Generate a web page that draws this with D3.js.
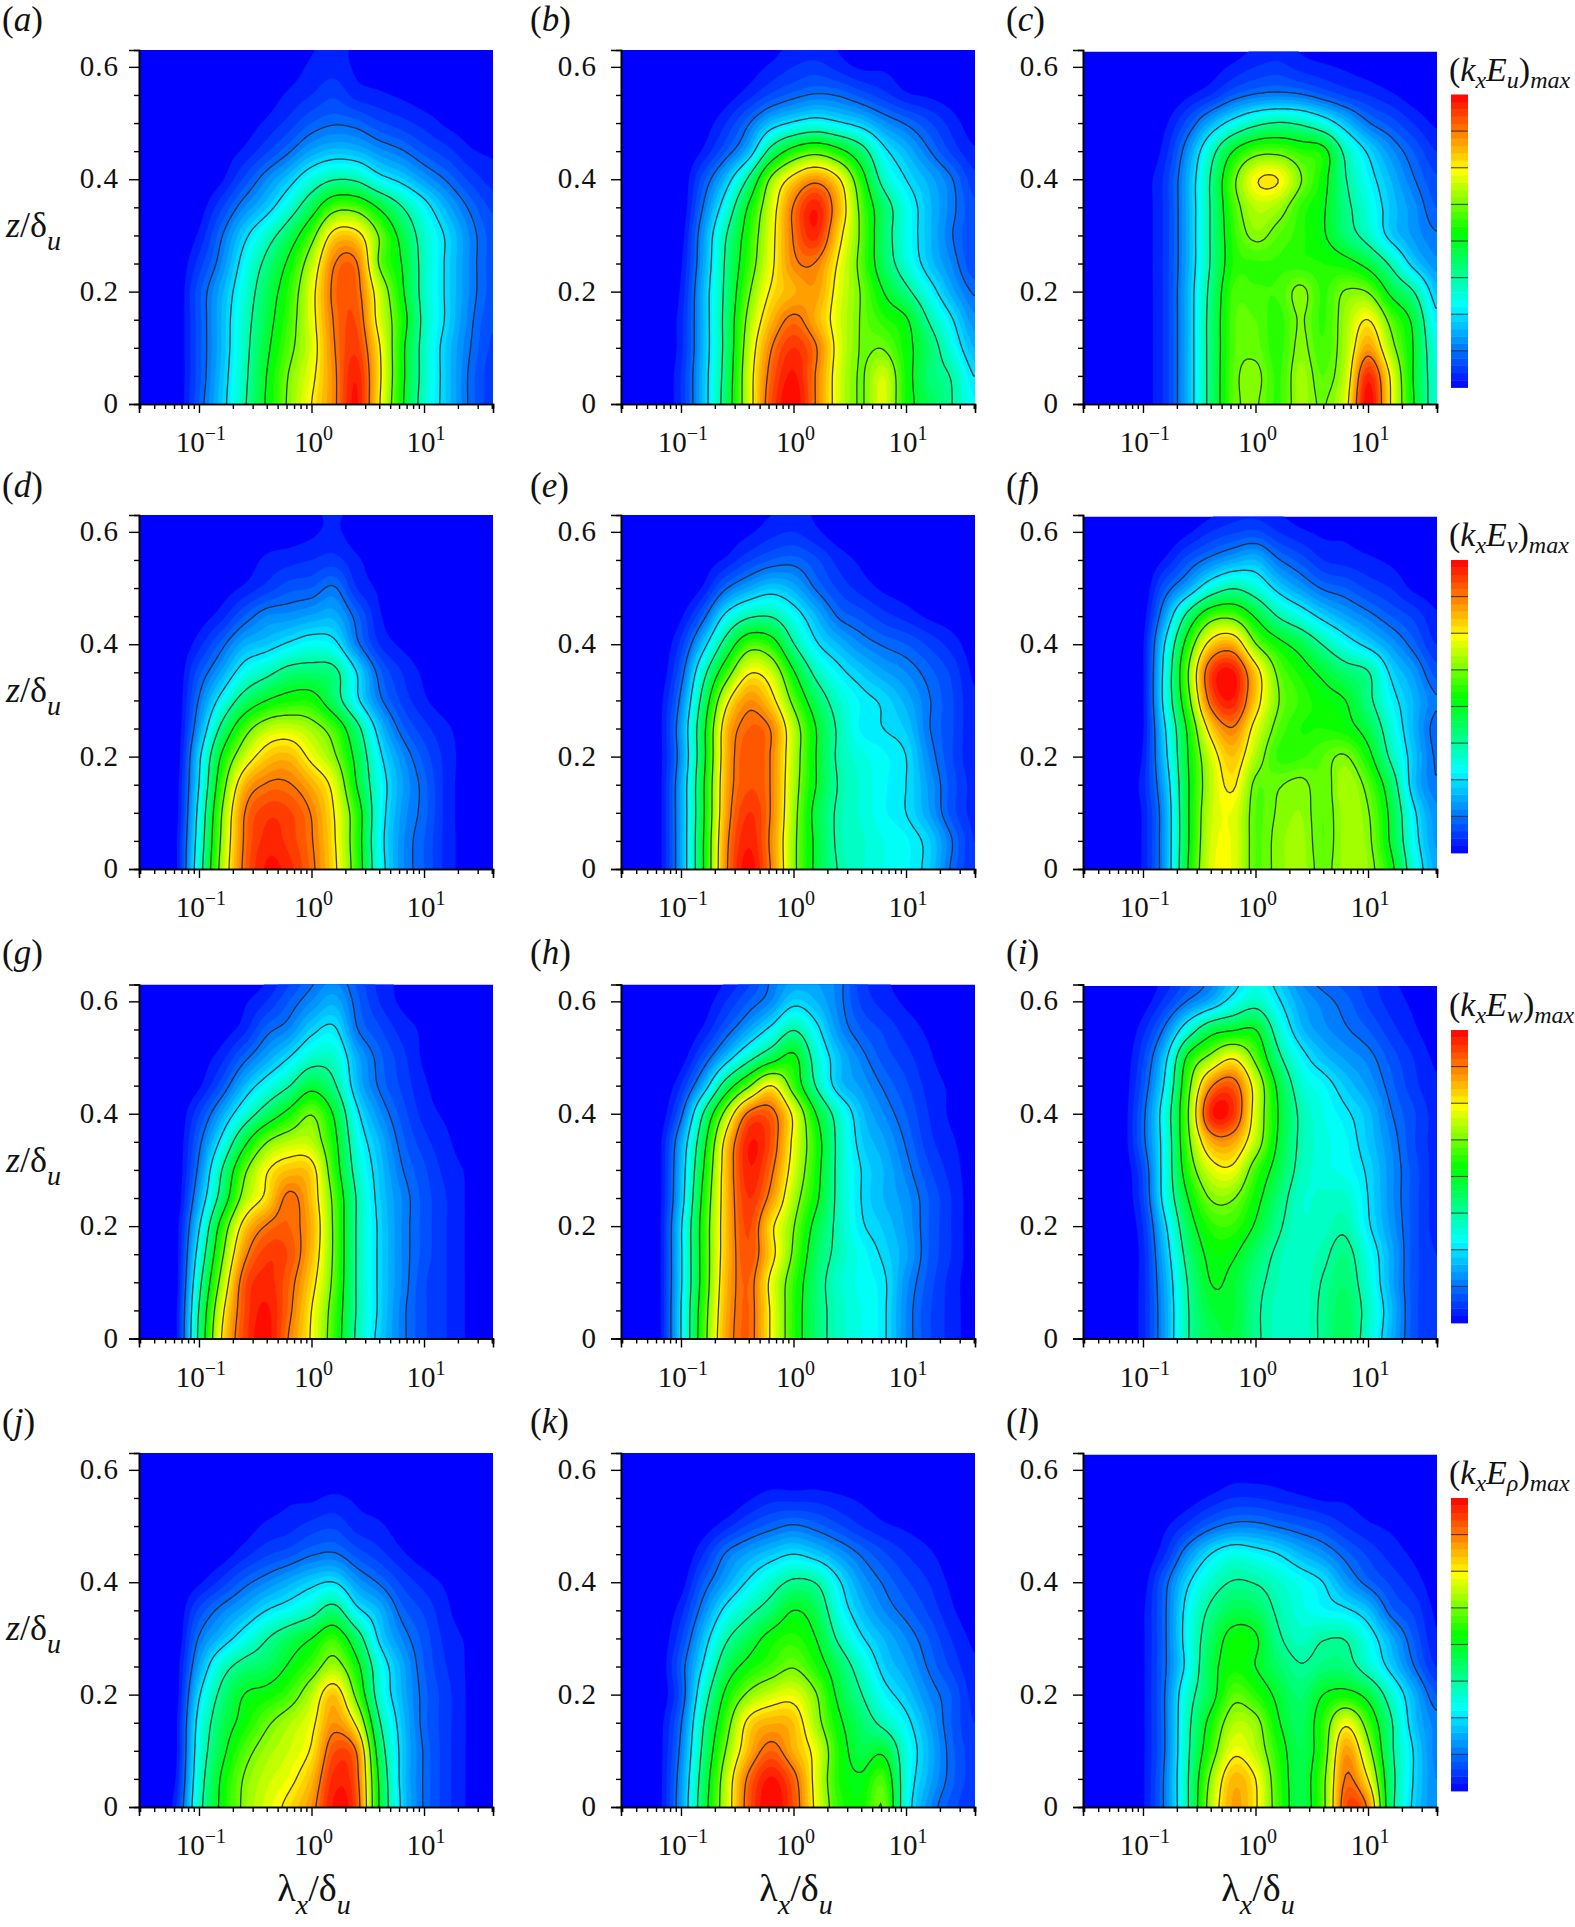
<!DOCTYPE html>
<html><head><meta charset="utf-8">
<script src="https://cdn.jsdelivr.net/npm/d3@7"></script>
<style>
html,body{margin:0;padding:0;background:#fff}
text{font-family:"Liberation Serif","Times New Roman",serif;fill:#111}
</style></head><body><svg id="c" width="1575" height="1927"></svg>
<script>
// log10(lambda_x/delta_u) at each column, z/delta_u at each row
const logLambda=[-1.6,-1.4,-1.2,-1,-0.8,-0.6,-0.4,-0.2,0,0.2,0.4,0.6,0.8,1,1.2,1.4,1.6];
const zRows=[0,0.05,0.1,0.15,0.2,0.25,0.3,0.35,0.4,0.45,0.5,0.55,0.6,0.65];
const xTickMajor=[0.1,1,10];
const xTickLabels=["\u22121","0","1"];
const xTickMinor=[0.03,0.04,0.05,0.06,0.07,0.08,0.09,0.2,0.3,0.4,0.5,0.6,0.7,0.8,0.9,2,3,4,5,6,7,8,9,20,30,40];
const yTickMajor=[0,0.2,0.4,0.6];
const yTickMinor=[0.05,0.1,0.15,0.25,0.3,0.35,0.45,0.5,0.55];
const contourLevels=[12.5,25,37.5,50,62.5,75,87.5];
const panelLetters=["a","b","c","d","e","f","g","h","i","j","k","l"];
const barSymbols=["u","v","w","\u03C1"];
const colorStops=[0,28,53,74,100];
const colorValues=["#0000ff","#00ffff","#00ff00","#ffff00","#ff0000"];

const panelA=[
[0,0,0,10,22,36,51,64,75,86,98,76,52,33,22,12,6],
[0,0,0,9,21,35,50,63,73,86,97,77,53,34,22,12,6],
[0,0,0,9,20,34,48,60,71,87,94,76,53,34,22,13,7],
[0,0,0,9,20,33,46,58,72,88,92,72,55,35,24,14,8],
[0,0,0,9,19,31,44,56,72,89,90,70,52,34,24,15,9],
[0,0,0,6,15,28,40,52,68,87,88,62,50,34,24,15,9],
[0,0,0,3,12,23,33,44,59,78,78,62,47,33,24,15,9],
[0,0,0,1,7,15,22,32,45,59,59,49,38,28,19,12,7],
[0,0,0,0,2,8,15,22,31,37,36,28,23,17,12,7,4],
[0,0,0,0,1,3,7,12,18,21,20,16,13,9,6,3,2],
[0,0,0,0,0,1,3,6,10,12,11,8,6,4,2,1,0],
[0,0,0,0,0,0,1,3,5,7,4,3,2,1,1,0,0],
[0,0,0,0,0,0,0,1,3,4,2,1,0,0,0,0,0],
[0,0,0,0,0,0,0,0,2,3,2,0,0,0,0,0,0]];
const panelB=[
[0,0,0,5,21,43,70,92,100,87,71,62,71,54,45,38,28],
[0,0,0,5,21,42,70,90,98,87,71,62,70,54,42,37,25],
[0,0,0,4,20,41,68,87,95,88,72,62,62,53,43,31,20],
[0,0,0,4,20,41,65,81,89,82,71,62,56,51,37,26,16],
[0,0,0,3,20,40,61,76,82,84,72,62,50,40,29,19,12],
[0,0,0,2,18,39,57,73,86,87,74,60,44,32,22,15,8],
[0,0,0,1,17,37,55,72,88,96,78,61,43,30,21,13,8],
[0,0,0,0,13,30,51,70,88,97,82,60,43,30,21,14,8],
[0,0,0,0,9,21,39,64,78,85,76,55,34,25,19,13,6],
[0,0,0,0,3,10,20,41,54,59,53,42,27,20,13,7,3],
[0,0,0,0,1,5,12,21,26,29,26,22,16,12,8,4,1],
[0,0,0,0,0,1,4,8,11,13,12,9,6,3,2,1,0],
[0,0,0,0,0,0,1,3,5,6,4,2,2,1,0,0,0],
[0,0,0,0,0,0,0,1,3,3,2,0,0,0,0,0,0]];
const panelC=[
[0,0,0,1,6,20,41,60,63,57,66,62,72,100,75,51,33],
[0,0,0,1,6,20,41,60,64,57,66,60,69,96,74,50,33],
[0,0,0,1,6,20,41,59,61,56,64,58,67,84,66,50,31],
[0,0,0,1,6,20,41,59,60,56,63,57,66,75,60,48,27],
[0,0,0,1,6,20,40,58,58,58,64,57,63,62,48,38,22],
[0,0,0,1,6,19,38,55,57,57,56,55,53,47,36,23,16],
[0,0,0,1,6,19,38,56,64,60,56,51,42,34,23,17,13],
[0,0,0,1,6,19,38,58,68,66,57,51,40,31,22,16,10],
[0,0,0,1,6,19,38,60,74,75,63,53,38,28,20,13,8],
[0,0,0,0,4,16,33,50,59,60,56,53,35,24,16,10,5],
[0,0,0,0,2,9,19,28,35,38,36,30,21,13,9,5,2],
[0,0,0,0,0,2,5,10,13,14,13,10,7,5,3,1,0],
[0,0,0,0,0,0,1,3,5,6,4,3,2,1,0,0,0],
[0,0,0,0,0,0,0,1,2,3,2,1,0,0,0,0,0]];
const panelD=[
[0,0,2,32,66,89,98,96,89,77,57,30,16,10,4,1,0],
[0,0,2,30,64,88,96,94,88,76,56,29,16,10,4,1,0],
[0,0,1,28,62,87,94,93,87,75,56,30,17,11,4,1,0],
[0,0,1,25,57,81,88,88,82,72,50,30,18,11,4,1,0],
[0,0,0,23,51,69,79,81,73,64,47,27,16,9,4,1,0],
[0,0,0,17,40,58,68,70,66,58,41,22,11,6,3,1,0],
[0,0,0,13,28,42,50,54,54,43,27,14,7,3,1,0,0],
[0,0,0,9,18,29,35,41,42,40,25,11,5,2,1,0,0],
[0,0,0,4,11,19,22,26,29,27,14,5,2,1,0,0,0],
[0,0,0,1,4,10,15,16,18,19,11,3,1,0,0,0,0],
[0,0,0,0,1,3,6,9,10,13,5,2,0,0,0,0,0],
[0,0,0,0,0,1,3,4,5,6,3,1,0,0,0,0,0],
[0,0,0,0,0,0,1,1,2,3,1,0,0,0,0,0,0],
[0,0,0,0,0,0,0,0,2,3,2,0,0,0,0,0,0]];
const panelE=[
[0,0,1,18,50,86,99,87,65,48,37,33,30,28,23,12,5],
[0,0,1,18,50,85,97,86,65,48,36,33,30,28,23,13,5],
[0,0,1,18,49,83,95,87,66,47,36,32,28,25,18,9,4],
[0,0,1,18,49,82,92,87,67,50,37,32,28,25,17,9,4],
[0,0,1,16,47,81,92,87,68,50,36,31,28,25,15,8,3],
[0,0,1,17,47,80,90,87,68,50,36,27,25,22,13,8,3],
[0,0,1,14,42,72,85,78,60,44,33,27,24,19,13,8,3],
[0,0,0,10,34,57,74,70,51,35,27,22,18,15,11,7,2],
[0,0,0,6,22,42,58,55,38,26,20,15,12,10,7,4,1],
[0,0,0,2,11,27,36,37,29,20,12,9,6,4,2,1,0],
[0,0,0,0,3,12,18,22,19,12,7,4,2,1,0,0,0],
[0,0,0,0,1,3,7,10,11,8,4,2,1,0,0,0,0],
[0,0,0,0,0,1,2,4,5,3,1,1,1,0,0,0,0],
[0,0,0,0,0,0,1,2,3,2,1,1,0,0,0,0,0]];
const panelF=[
[0,0,0,3,18,50,71,72,60,64,66,61,66,65,53,32,19],
[0,0,0,3,18,49,70,72,60,64,66,60,66,64,49,29,17],
[0,0,0,3,18,49,69,72,60,63,65,60,66,63,48,27,16],
[0,0,0,4,20,49,68,76,61,62,64,60,67,60,44,22,13],
[0,0,0,3,23,50,70,80,67,57,57,60,63,53,36,22,12],
[0,0,0,2,25,52,78,87,72,60,55,55,53,46,32,20,11],
[0,0,0,2,29,59,90,97,79,63,57,53,50,40,28,20,13],
[0,0,0,2,29,62,93,98,79,61,54,48,42,38,24,17,9],
[0,0,0,2,26,55,78,82,63,53,46,37,29,23,17,11,5],
[0,0,0,1,18,41,58,60,49,37,30,23,18,14,10,7,3],
[0,0,0,0,10,19,31,37,32,23,17,12,10,7,5,2,1],
[0,0,0,0,3,9,14,18,20,13,9,5,4,3,2,1,0],
[0,0,0,0,0,2,5,7,8,5,3,2,2,1,1,1,0],
[0,0,0,0,0,0,1,3,3,2,1,1,1,0,0,0,0]];
const panelG=[
[0,0,2,40,75,93,99,87,74,57,36,23,14,8,5,2,0],
[0,0,2,38,72,92,98,89,75,58,37,24,14,8,5,2,0],
[0,0,1,34,66,91,96,90,78,60,37,24,15,8,5,2,0],
[0,0,1,29,60,85,94,92,81,61,37,24,15,9,5,2,0],
[0,0,1,24,54,78,88,90,82,61,37,24,15,9,5,2,0],
[0,0,0,18,42,66,77,89,80,60,37,23,15,9,5,2,0],
[0,0,0,14,37,60,74,80,78,56,34,22,13,8,4,2,0],
[0,0,0,11,27,47,62,68,68,53,31,20,11,6,3,1,0],
[0,0,0,7,18,31,43,53,62,49,27,16,9,4,2,1,0],
[0,0,0,2,9,20,29,37,47,39,21,12,7,3,1,0,0],
[0,0,0,1,4,11,18,25,33,33,19,11,6,2,1,0,0],
[0,0,0,0,1,4,11,15,23,26,13,8,4,2,1,0,0],
[0,0,0,0,0,2,5,10,15,19,11,5,2,1,0,0,0],
[0,0,0,0,0,0,2,6,11,14,9,4,2,1,0,0,0]];
const panelH=[
[0,0,1,25,58,83,90,74,56,42,34,30,26,15,8,4,1],
[0,0,1,25,57,82,90,74,56,42,34,30,26,15,8,4,1],
[0,0,1,24,55,81,90,73,57,42,33,29,26,16,9,4,1],
[0,0,1,24,55,80,92,78,61,44,35,29,24,18,10,5,1],
[0,0,1,24,55,80,93,77,63,47,35,26,22,17,10,5,1],
[0,0,1,21,53,80,95,85,67,52,35,25,20,16,10,5,1],
[0,0,1,20,50,80,97,89,71,54,35,25,20,14,8,4,1],
[0,0,1,18,46,78,97,92,73,55,35,23,18,12,6,3,1],
[0,0,0,11,38,66,89,90,73,50,33,21,15,10,5,2,0],
[0,0,0,5,20,43,61,75,58,37,22,17,12,8,4,2,0],
[0,0,0,1,9,21,34,45,52,33,21,14,9,6,3,1,0],
[0,0,0,0,3,10,18,27,37,27,16,10,7,4,2,1,0],
[0,0,0,0,1,5,10,15,23,20,14,7,4,2,1,0,0],
[0,0,0,0,0,2,6,13,17,17,14,6,3,1,1,0,0]];
const panelI=[
[0,0,0,4,18,37,45,47,39,34,33,39,44,33,20,9,5],
[0,0,0,4,18,37,47,48,39,34,33,39,44,34,21,9,5],
[0,0,0,4,19,38,50,48,40,35,33,38,42,32,19,9,5],
[0,0,0,4,21,41,52,51,43,36,33,36,40,30,19,9,5],
[0,0,0,5,24,45,56,57,49,39,33,34,36,26,17,9,4],
[0,0,0,7,29,50,63,63,53,42,33,33,33,25,16,9,4],
[0,0,0,8,30,56,71,73,58,46,35,31,29,24,16,9,4],
[0,0,0,11,30,60,82,83,68,49,36,31,28,22,15,8,4],
[0,0,0,11,31,62,96,95,71,50,36,30,26,21,13,8,4],
[0,0,0,9,27,59,86,91,71,48,33,28,22,17,11,6,3],
[0,0,0,7,23,52,65,74,60,40,28,21,17,14,9,5,2],
[0,0,0,4,14,31,45,49,50,33,21,16,13,10,6,3,1],
[0,0,0,1,6,13,19,28,34,26,18,14,11,7,4,2,1],
[0,0,0,0,3,8,13,21,28,22,14,10,8,6,3,1,0]];
const panelJ=[
[0,0,5,34,52,64,71,77,85,98,92,50,24,12,6,2,0],
[0,0,3,32,51,63,69,73,81,96,90,49,23,12,6,2,0],
[0,0,2,30,47,59,66,70,76,92,87,45,23,12,6,2,0],
[0,0,2,28,44,53,61,67,73,85,73,39,22,11,6,2,0],
[0,0,1,24,40,50,53,58,68,80,60,33,20,11,6,2,0],
[0,0,1,18,33,41,44,51,58,66,53,31,19,10,5,2,0],
[0,0,0,13,21,29,37,44,50,57,43,24,15,9,4,2,0],
[0,0,0,8,14,19,25,29,34,41,27,20,11,7,3,1,0],
[0,0,0,2,6,11,15,19,23,25,17,12,7,4,2,1,0],
[0,0,0,0,1,4,7,9,12,13,9,6,3,1,0,0,0],
[0,0,0,0,0,1,3,4,6,7,4,3,1,0,0,0,0],
[0,0,0,0,0,0,1,2,2,3,2,1,0,0,0,0,0],
[0,0,0,0,0,0,0,0,0,0,0,0,0,0,0,0,0],
[0,0,0,0,0,0,0,0,0,0,0,0,0,0,0,0,0]];
const panelK=[
[0,0,1,17,45,69,91,100,92,73,57,53,62,30,16,9,5],
[0,0,1,16,43,68,89,98,90,72,55,51,58,31,19,11,6],
[0,0,1,14,40,63,81,90,82,72,55,46,48,31,20,11,6],
[0,0,1,12,37,58,77,82,80,66,52,43,35,27,18,10,5],
[0,0,0,9,32,52,64,70,72,63,48,38,28,22,15,10,4],
[0,0,0,10,26,44,53,58,62,55,44,33,23,18,12,7,3],
[0,0,0,7,21,36,45,53,56,50,36,26,20,15,10,5,2],
[0,0,0,4,15,27,35,42,50,45,30,21,15,11,7,3,1],
[0,0,0,1,10,18,26,33,39,37,26,17,12,8,5,2,1],
[0,0,0,0,5,13,18,22,25,22,17,12,8,5,3,1,0],
[0,0,0,0,1,4,8,11,13,11,8,5,3,2,1,0,0],
[0,0,0,0,0,0,2,4,4,4,3,2,1,0,0,0,0],
[0,0,0,0,0,0,0,0,0,0,0,0,0,0,0,0,0],
[0,0,0,0,0,0,0,0,0,0,0,0,0,0,0,0,0]];
const panelL=[
[0,0,0,2,14,37,67,83,76,58,46,60,92,86,42,24,15],
[0,0,0,2,14,37,64,81,75,57,46,60,88,75,42,25,15],
[0,0,0,2,13,36,57,73,68,55,45,57,84,66,40,25,14],
[0,0,0,2,13,35,53,67,65,51,44,56,73,58,39,22,14],
[0,0,0,2,13,33,46,60,56,48,42,50,53,47,33,20,10],
[0,0,0,2,12,28,46,54,50,43,38,41,41,33,23,13,5],
[0,0,0,2,12,29,43,53,51,39,34,37,37,29,19,10,3],
[0,0,0,2,12,28,39,45,44,36,31,28,26,21,11,7,2],
[0,0,0,1,11,24,33,38,37,33,29,25,17,11,7,4,1],
[0,0,0,0,5,16,25,30,28,25,20,16,11,7,4,2,0],
[0,0,0,0,2,6,11,14,14,12,10,8,5,3,2,1,0],
[0,0,0,0,0,1,3,5,5,4,3,2,2,1,0,0,0],
[0,0,0,0,0,0,0,1,1,1,0,0,0,0,0,0,0],
[0,0,0,0,0,0,0,0,0,0,0,0,0,0,0,0,0]];
const panels=[panelA,panelB,panelC,panelD,panelE,panelF,panelG,panelH,panelI,panelJ,panelK,panelL];

// layout (pixels)
const colLeft=[139,621,1083], panelW=354;
const rowBottom=[404,869,1338.5,1807], panelH_px=354;
const labelGap=[20,24,24], letterX=[2,530,1006], letterY=[31,497,964,1433];
const barTop=[94.5,560,1030,1498], barH=293, barX=1451, barW=17;

const svg=d3.select("#c");
const logMin=-1.533, logMax=1.613;
const color=d3.scaleLinear().domain(colorStops).range(colorValues).clamp(true);
const thresholds=d3.range(2.5,100,2.5);
const stepX=0.025, stepZ=0.00625;
const gx=d3.range(logLambda[0],1.66,stepX);
const gz=d3.range(-0.025,0.6501,stepZ);

function cr(p0,p1,p2,p3,t){return 0.5*((2*p1)+(-p0+p2)*t+(2*p0-5*p1+4*p2-p3)*t*t+(-p0+3*p1-3*p2+p3)*t*t*t);}
function resample(grid){
  const ni=logLambda.length,nj=zRows.length,out=new Float64Array(gx.length*gz.length);
  const at=(j,i)=>grid[Math.max(0,Math.min(nj-1,j))][Math.max(0,Math.min(ni-1,i))];
  gz.forEach((z,jj)=>{
    const fj=Math.max(0,Math.min(nj-1.0001,z/0.05)),j=Math.floor(fj),tj=fj-j;
    gx.forEach((lg,ii)=>{
      const fi=Math.max(0,Math.min(ni-1.0001,(lg-logLambda[0])/0.2)),i=Math.floor(fi),ti=fi-i;
      const r=[-1,0,1,2].map(d=>cr(at(j+d,i-1),at(j+d,i),at(j+d,i+1),at(j+d,i+2),ti));
      out[jj*gx.length+ii]=Math.max(0,Math.min(100,cr(r[0],r[1],r[2],r[3],tj)));
    });
  });
  return out;
}

panels.forEach((grid,idx)=>{
  const col=idx%3,row=Math.floor(idx/3);
  const left=colLeft[col],bottom=rowBottom[row],top=bottom-panelH_px,right=left+panelW;
  const x=d3.scaleLog().domain([Math.pow(10,logMin),Math.pow(10,logMax)]).range([left,right]);
  const y=d3.scaleLinear().domain([0,0.63]).range([bottom,top]);
  const clipTop=col===2?top+1.5:top;
  const cid="clip"+idx;
  svg.append("clipPath").attr("id",cid).append("rect").attr("x",left).attr("y",clipTop).attr("width",panelW).attr("height",bottom-clipTop);
  const g=svg.append("g").attr("clip-path",`url(#${cid})`);
  g.append("rect").attr("x",left).attr("y",clipTop).attr("width",panelW).attr("height",bottom-clipTop).attr("fill",color(0));
  const field=resample(grid);
  const proj=d3.geoTransform({point(a,b){
    const lg=logLambda[0]+(a-0.5)*stepX, z=-0.025+(b-0.5)*stepZ;
    this.stream.point(x(Math.pow(10,lg)),y(z));
  }});
  const path=d3.geoPath(proj);
  const gen=d3.contours().size([gx.length,gz.length]);
  thresholds.forEach(t=>{
    g.append("path").attr("d",path(gen.contour(field,t))).attr("fill",color(t+1.25)).attr("stroke",color(t+1.25)).attr("stroke-width",0.3);
  });
  contourLevels.forEach(t=>{
    g.append("path").attr("d",path(gen.contour(field,t))).attr("fill","none").attr("stroke","#222").attr("stroke-opacity",0.85).attr("stroke-width",1.3);
  });

  // axes
  const axB=svg.append("g").attr("transform",`translate(0,${bottom})`);
  axB.call(d3.axisBottom(x).tickValues(xTickMinor).tickSize(5).tickFormat(""));
  const axM=svg.append("g").attr("transform",`translate(0,${bottom})`);
  axM.call(d3.axisBottom(x).tickValues(xTickMajor).tickSize(9).tickFormat(""));
  xTickMajor.forEach((v,i)=>{
    const t=svg.append("text").attr("x",x(v)+2).attr("y",bottom+48).attr("text-anchor","middle").attr("font-size",29);
    t.append("tspan").text("10");
    t.append("tspan").attr("dy",-12).attr("font-size",20).text(xTickLabels[i]);
  });
  const ayB=svg.append("g").attr("transform",`translate(${left},0)`);
  ayB.call(d3.axisLeft(y).tickValues(yTickMinor).tickSize(5).tickFormat(""));
  const ayM=svg.append("g").attr("transform",`translate(${left},0)`);
  ayM.call(d3.axisLeft(y).tickValues(yTickMajor).tickSize(10).tickFormat(""));
  yTickMajor.forEach(v=>{
    svg.append("text").attr("x",left-labelGap[col]).attr("y",y(v)+9).attr("text-anchor","end").attr("font-size",29).attr("letter-spacing",1).text(v===0?"0":v.toFixed(1));
  });
  [axB,axM,ayB,ayM].forEach(a=>{a.selectAll("path").attr("stroke","#000").attr("stroke-width",1.6);a.selectAll("line").attr("stroke","#000").attr("stroke-width",1.4);});

  // panel letter
  const lt=svg.append("text").attr("x",letterX[col]).attr("y",letterY[row]).attr("font-size",35);
  lt.append("tspan").text("(");
  lt.append("tspan").attr("font-style","italic").text(panelLetters[idx]);
  lt.append("tspan").text(")");

  // y label
  if(col===0){
    const yl=svg.append("text").attr("x",6).attr("y",bottom-167).attr("font-size",36).attr("font-style","italic");
    yl.append("tspan").text("z");
    yl.append("tspan").attr("font-style","normal").text("/\u03B4");
    yl.append("tspan").attr("dy",13).attr("font-size",28).text("u");
  }
  // x label
  if(row===3){
    const xl=svg.append("text").attr("x",left+175).attr("y",1901).attr("text-anchor","middle").attr("font-size",38);
    xl.append("tspan").text("\u03BB");
    xl.append("tspan").attr("dy",13).attr("font-size",28).attr("font-style","italic").text("x");
    xl.append("tspan").attr("dy",-13).text("/\u03B4");
    xl.append("tspan").attr("dy",13).attr("font-size",28).attr("font-style","italic").text("u");
  }
  // colour bar
  if(col===2){
    const by=d3.scaleLinear().domain([0,100]).range([barTop[row]+barH,barTop[row]]);
    const bg=svg.append("g");
    bg.selectAll("rect").data(d3.range(0,100,2.5)).join("rect")
      .attr("x",barX).attr("width",barW)
      .attr("y",d=>by(d+2.5)).attr("height",d=>by(d)-by(d+2.5)+0.4)
      .attr("fill",d=>color(d+1.25));
    bg.selectAll("line").data(contourLevels).join("line")
      .attr("x1",barX).attr("x2",barX+barW).attr("y1",d=>by(d)).attr("y2",d=>by(d))
      .attr("stroke","#222").attr("stroke-opacity",0.8).attr("stroke-width",1.1);
    const bt=svg.append("text").attr("x",1449).attr("y",barTop[row]-14).attr("font-size",34);
    const sub=(s,dy)=>bt.append("tspan").attr("dy",dy).attr("font-size",24).attr("font-style","italic").text(s);
    bt.append("tspan").text("(");
    bt.append("tspan").attr("font-style","italic").text("k");
    sub("x",7);
    bt.append("tspan").attr("dy",-7).attr("font-style","italic").text("E");
    sub(barSymbols[row],7);
    bt.append("tspan").attr("dy",-7).text(")");
    sub("max",7);
  }
});
</script></body></html>
